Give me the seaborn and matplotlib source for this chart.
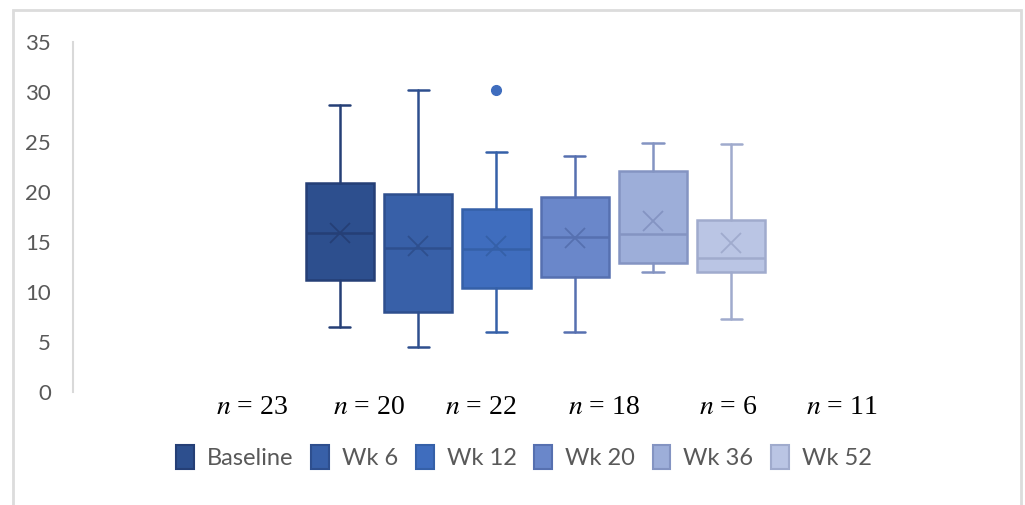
import matplotlib.pyplot as plt
import matplotlib.patches as mpatches
import seaborn as sns

# box statistics
groups = ['Baseline', 'Wk 6', 'Wk 12', 'Wk 20', 'Wk 36', 'Wk 52']
n_counts = [23, 20, 22, 18, 6, 11]
q1 = [11.2, 8.0, 10.4, 11.5, 12.9, 12.0]
median = [15.9, 14.4, 14.3, 15.5, 15.8, 13.4]
q3 = [20.9, 19.8, 18.3, 19.5, 22.1, 17.2]
whisker_lo = [6.5, 4.5, 6.0, 6.0, 12.0, 7.3]
whisker_hi = [28.7, 30.2, 24.0, 23.6, 24.9, 24.8]
means = [15.9, 14.6, 14.6, 15.4, 17.1, 14.9]
outliers = [[], [], [30.2], [], [], []]

face_colors = ['#2D4F8E', '#3860A8', '#3F6DBE', '#6A87CA', '#9DAED9', '#BAC5E4']
edge_colors = ['#253F76', '#2E4F8E', '#3560A8', '#5670B0', '#8494C2', '#A0ABCD']


def main():
    sns.set_theme(style="white")
    plt.rcParams['font.family'] = ['Lato', 'DejaVu Sans']
    plt.rcParams['mathtext.fontset'] = 'stix'

    fig = plt.figure(figsize=(10.25, 5.05), dpi=100)
    ax = fig.add_axes([73 / 1025, 113 / 505, 926 / 1025, 350 / 505])

    positions = list(range(len(groups)))
    for i, g in enumerate(groups):
        stats = [{
            'label': g,
            'q1': q1[i], 'med': median[i], 'q3': q3[i],
            'whislo': whisker_lo[i], 'whishi': whisker_hi[i],
            'mean': means[i], 'fliers': outliers[i],
        }]
        ec = edge_colors[i]
        ax.bxp(stats, positions=[positions[i]], widths=0.87, capwidths=0.27,
               patch_artist=True, showmeans=True,
               boxprops=dict(facecolor=face_colors[i], edgecolor=ec, linewidth=1.8),
               medianprops=dict(color=ec, linewidth=1.8),
               whiskerprops=dict(color=ec, linewidth=1.8),
               capprops=dict(color=ec, linewidth=1.8),
               meanprops=dict(marker='x', markersize=15, markeredgecolor=ec,
                              markeredgewidth=1.3),
               flierprops=dict(marker='o', markersize=7, markerfacecolor=face_colors[i],
                               markeredgecolor=face_colors[i]))

    ax.set_xlim(-3.41, 8.42)
    ax.set_ylim(0, 35)
    ax.set_yticks(range(0, 36, 5))
    ax.set_xticks([])
    ax.tick_params(axis='y', length=0, labelsize=16, labelcolor='#595959', pad=16)
    for side in ['top', 'right', 'bottom']:
        ax.spines[side].set_visible(False)
    ax.spines['left'].set_color('#D9D9D9')
    ax.spines['left'].set_linewidth(1.5)
    ax.grid(False)

    # sample sizes under the plot
    n_x = [252, 369, 481, 604, 728, 842]
    for x, n in zip(n_x, n_counts):
        fig.text(x / 1025, 1 - 408 / 505, f'$n$ = {n}', ha='center', va='center',
                 fontsize=20, family='Liberation Serif', color='black')

    handles = [mpatches.Patch(facecolor=face_colors[i], edgecolor=edge_colors[i],
                              linewidth=1.5, label=g) for i, g in enumerate(groups)]
    fig.legend(handles=handles, loc='center', bbox_to_anchor=(524 / 1025, 1 - 457 / 505),
               ncol=6, frameon=False, fontsize=17, labelcolor='#595959',
               handlelength=0.75, handleheight=1.25, handletextpad=0.55, columnspacing=0.75)

    # light frame around the chart
    fig.patches.append(mpatches.Rectangle((13 / 1025, -0.05), 1008 / 1025, 1.05 - 10 / 505,
                                          transform=fig.transFigure, fill=False,
                                          edgecolor='#DCDCDC', linewidth=2))

    fig.savefig('out.png', dpi=100)
    plt.close(fig)


if __name__ == "__main__":
    main()
